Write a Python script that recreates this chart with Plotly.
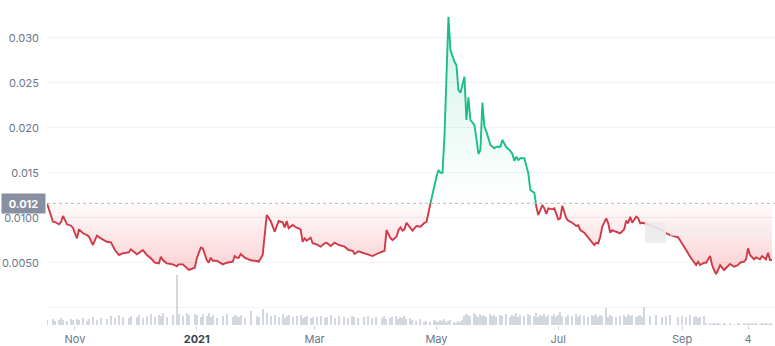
import numpy as np
import pandas as pd
import plotly.graph_objects as go

# ---------------- data ----------------
dates = [
    "2020-10-18", "2020-10-21", "2020-10-22", "2020-10-24", "2020-10-25", "2020-10-26", "2020-10-28", "2020-10-30", "2020-10-31",
    "2020-11-02", "2020-11-03", "2020-11-05", "2020-11-07", "2020-11-08", "2020-11-10", "2020-11-12", "2020-11-14", "2020-11-17",
    "2020-11-19", "2020-11-21", "2020-11-23", "2020-11-25", "2020-11-28", "2020-11-29",
    "2020-12-02", "2020-12-03", "2020-12-05", "2020-12-07", "2020-12-09", "2020-12-11", "2020-12-13", "2020-12-14", "2020-12-15",
    "2020-12-17", "2020-12-20", "2020-12-22", "2020-12-23", "2020-12-25", "2020-12-27", "2020-12-28", "2020-12-31",
    "2021-01-01", "2021-01-03", "2021-01-04", "2021-01-06", "2021-01-07", "2021-01-08", "2021-01-09", "2021-01-11", "2021-01-14",
    "2021-01-16", "2021-01-19", "2021-01-20", "2021-01-21", "2021-01-22", "2021-01-23", "2021-01-25", "2021-01-28", "2021-01-31",
    "2021-02-01", "2021-02-03", "2021-02-05", "2021-02-07", "2021-02-09", "2021-02-11", "2021-02-13", "2021-02-14", "2021-02-15",
    "2021-02-16", "2021-02-18", "2021-02-20", "2021-02-22", "2021-02-23", "2021-02-24", "2021-02-25", "2021-02-27", "2021-02-28",
    "2021-03-02", "2021-03-04", "2021-03-06", "2021-03-07", "2021-03-09", "2021-03-11", "2021-03-13", "2021-03-16", "2021-03-18",
    "2021-03-20", "2021-03-21", "2021-03-23", "2021-03-26", "2021-03-28", "2021-03-30",
    "2021-04-01", "2021-04-04", "2021-04-05", "2021-04-06", "2021-04-08", "2021-04-09", "2021-04-11", "2021-04-12", "2021-04-13",
    "2021-04-14", "2021-04-15", "2021-04-16", "2021-04-18", "2021-04-19", "2021-04-21", "2021-04-23", "2021-04-25", "2021-04-26",
    "2021-04-28", "2021-04-30",
    "2021-05-01", "2021-05-02", "2021-05-03", "2021-05-04", "2021-05-05", "2021-05-06", "2021-05-07", "2021-05-08", "2021-05-10",
    "2021-05-11", "2021-05-12", "2021-05-13", "2021-05-14", "2021-05-15", "2021-05-16", "2021-05-17", "2021-05-18", "2021-05-20",
    "2021-05-21", "2021-05-22", "2021-05-23", "2021-05-24", "2021-05-25", "2021-05-26", "2021-05-28", "2021-05-29", "2021-05-30",
    "2021-05-31",
    "2021-06-02", "2021-06-03", "2021-06-05", "2021-06-07", "2021-06-08", "2021-06-09", "2021-06-10", "2021-06-11", "2021-06-12",
    "2021-06-14", "2021-06-16", "2021-06-17", "2021-06-19", "2021-06-20", "2021-06-21", "2021-06-22", "2021-06-23", "2021-06-24",
    "2021-06-25", "2021-06-26", "2021-06-28", "2021-06-29", "2021-06-30",
    "2021-07-01", "2021-07-02", "2021-07-03", "2021-07-05", "2021-07-06", "2021-07-08", "2021-07-10", "2021-07-11", "2021-07-12",
    "2021-07-14", "2021-07-16", "2021-07-18", "2021-07-19", "2021-07-20", "2021-07-21", "2021-07-22", "2021-07-23", "2021-07-25",
    "2021-07-26", "2021-07-27", "2021-07-28", "2021-07-30",
    "2021-08-01", "2021-08-03", "2021-08-04", "2021-08-05", "2021-08-06", "2021-08-07", "2021-08-09", "2021-08-10", "2021-08-11",
    "2021-08-12", "2021-08-13", "2021-08-16", "2021-08-19", "2021-08-22", "2021-08-24", "2021-08-26", "2021-08-30",
    "2021-09-01", "2021-09-03", "2021-09-05", "2021-09-07", "2021-09-08", "2021-09-09", "2021-09-10", "2021-09-12", "2021-09-13",
    "2021-09-15", "2021-09-16", "2021-09-17", "2021-09-18", "2021-09-19", "2021-09-20", "2021-09-22", "2021-09-23", "2021-09-25",
    "2021-09-27", "2021-09-29", "2021-09-30",
    "2021-10-02", "2021-10-03", "2021-10-04", "2021-10-05", "2021-10-06", "2021-10-07", "2021-10-08", "2021-10-10", "2021-10-11",
    "2021-10-12", "2021-10-13", "2021-10-14", "2021-10-15", "2021-10-16",
]

prices = [
    0.01160, 0.00956, 0.00952, 0.00927, 0.00952, 0.01019, 0.00927, 0.00911, 0.00886,
    0.00771, 0.00871, 0.00827, 0.00808, 0.00789, 0.00697, 0.00800, 0.00771, 0.00733,
    0.00727, 0.00641, 0.00586, 0.00604, 0.00616, 0.00649,
    0.00593, 0.00611, 0.00641, 0.00586, 0.00549, 0.00500, 0.00493, 0.00567, 0.00530,
    0.00493, 0.00482, 0.00463, 0.00482, 0.00482, 0.00438, 0.00419, 0.00444,
    0.00549, 0.00667, 0.00660, 0.00530, 0.00500, 0.00556, 0.00522, 0.00522, 0.00482,
    0.00500, 0.00511, 0.00574, 0.00556, 0.00556, 0.00597, 0.00556, 0.00527, 0.00519,
    0.00511, 0.00586, 0.01030, 0.00963, 0.00844, 0.00963, 0.00949, 0.00893, 0.00963,
    0.00882, 0.00919, 0.00889, 0.00871, 0.00733, 0.00771, 0.00744, 0.00778, 0.00716,
    0.00704, 0.00678, 0.00716, 0.00722, 0.00686, 0.00722, 0.00697, 0.00678, 0.00641,
    0.00633, 0.00597, 0.00627, 0.00604, 0.00586, 0.00574,
    0.00597, 0.00619, 0.00633, 0.00863, 0.00771, 0.00752, 0.00789, 0.00863, 0.00893,
    0.00856, 0.00871, 0.00944, 0.00893, 0.00856, 0.00908, 0.00900, 0.00944, 0.00952,
    0.01160, 0.01382,
    0.01456, 0.01530, 0.01500, 0.01500, 0.01900, 0.02567, 0.03233, 0.02863, 0.02733,
    0.02697, 0.02419, 0.02389, 0.02474, 0.02567, 0.02086, 0.02338, 0.02086, 0.02030,
    0.01882, 0.01708, 0.01752, 0.02278, 0.02011, 0.01956, 0.01808, 0.01789, 0.01771,
    0.01789,
    0.01789, 0.01863, 0.01782, 0.01744, 0.01708, 0.01633, 0.01678, 0.01641, 0.01660,
    0.01660, 0.01493, 0.01308, 0.01278, 0.01122, 0.01030, 0.01086, 0.01141, 0.01104,
    0.01041, 0.01104, 0.01093, 0.01104, 0.01030,
    0.00982, 0.00993, 0.01133, 0.00993, 0.00967, 0.00944, 0.00908, 0.00916, 0.00863,
    0.00833, 0.00782, 0.00733, 0.00697, 0.00722, 0.00716, 0.00789, 0.00900, 0.00993,
    0.00938, 0.00833, 0.00863, 0.00844,
    0.00827, 0.00871, 0.00967, 0.00938, 0.01011, 0.00944, 0.01011, 0.00993, 0.00938,
    0.00944, 0.00938, 0.00920, 0.00890, 0.00860, 0.00827, 0.00808, 0.00782,
    0.00716, 0.00641, 0.00567, 0.00511, 0.00474, 0.00511, 0.00474, 0.00500, 0.00500,
    0.00574, 0.00474, 0.00419, 0.00374, 0.00419, 0.00474, 0.00419, 0.00438, 0.00486,
    0.00456, 0.00474, 0.00500,
    0.00511, 0.00538, 0.00660, 0.00586, 0.00560, 0.00538, 0.00560, 0.00538, 0.00574,
    0.00560, 0.00538, 0.00611, 0.00530, 0.00530,
]

volumes = [
    0.5, 0.6, 0.4, 0.5, 0.7, 0.5, 0.4, 0.6, 0.5,
    0.6, 0.5, 0.7, 0.4, 0.6, 0.8, 0.5, 0.7, 0.6, 0.9, 0.7, 1.0, 0.8, 0.7, 0.9,
    0.8, 1.0, 0.7, 0.9, 1.1, 0.8, 1.0, 0.9, 1.2, 0.8, 1.0, 5.0, 1.1, 0.9, 1.2, 1.0, 1.1,
    1.0, 0.8, 1.1, 0.9, 1.2, 0.8, 1.0, 0.7, 0.9, 1.1, 0.8, 1.0, 0.9, 0.8, 1.0, 0.7, 1.4, 0.9,
    0.8, 1.6, 1.2, 0.9, 1.0, 0.8, 1.1, 0.7, 0.9, 1.0, 0.8, 0.9, 1.0, 0.7, 0.8, 0.9, 0.7, 0.8,
    0.8, 0.9, 0.7, 0.8, 1.0, 0.7, 0.9, 0.8, 0.7, 0.9, 0.8, 0.7, 0.8, 0.9, 0.7,
    0.8, 0.7, 0.9, 0.6, 0.7, 0.8, 0.9, 0.6, 0.8, 0.7, 0.9, 0.6, 0.7, 0.5, 0.4, 0.6, 0.3, 0.4, 0.3, 0.5,
    0.4, 0.3, 0.5, 0.4, 0.6, 0.3, 0.4, 0.5, 0.3, 0.2, 0.4, 0.3, 0.5, 0.9, 1.1, 1.0, 0.9, 1.2, 1.0,
    0.8, 1.1, 0.9, 1.0, 0.8, 1.1, 0.9, 1.0, 0.8,
    1.0, 0.9, 1.1, 0.8, 1.0, 0.9, 1.2, 0.8, 1.0, 0.9, 1.1, 1.0, 0.9, 1.2, 0.8, 1.0, 0.9, 1.1, 0.8,
    1.0, 0.9, 1.1, 0.8,
    1.0, 1.3, 0.9, 0.8, 1.0, 0.9, 1.1, 0.8, 1.0, 0.9, 0.8, 1.0, 0.9, 1.1, 0.8, 1.0, 0.9, 1.7,
    0.8, 1.0, 0.9, 0.8,
    0.9, 1.0, 0.8, 1.1, 0.9, 1.0, 0.8, 0.9, 1.0, 0.8, 1.8, 0.9, 1.0, 0.8, 0.9, 1.0, 0.8,
    0.9, 0.8, 1.0, 0.8, 0.9, 0.7, 0.8, 0.9, 0.2, 0.15, 0.1, 0.15, 0.1, 0.2, 0.1, 0.15, 0.1, 0.15,
    0.1, 0.2, 0.1,
    0.15, 0.1, 0.2, 0.1, 0.15, 0.1, 0.15, 0.1, 0.2, 0.1, 0.15, 0.1, 0.15, 0.1,
]

x_tick_dates = ["2020-11-01", "2021-01-01", "2021-03-01", "2021-05-01", "2021-07-01", "2021-09-01", "2021-10-04"]
x_tick_labels = ["Nov", "<b><span style='color:#3a3f4b'>2021</span></b>", "Mar", "May", "Jul", "Sep", "4"]
y_tick_values = [0, 0.005, 0.010, 0.015, 0.020, 0.025, 0.030]
y_tick_labels = ["", "0.0050", "0.0100", "0.015", "0.020", "0.025", "0.030"]
baseline_label = "0.012"

# ---------------- styling ----------------
RED = "#d03a48"
GREEN = "#1bbf82"
TXT = "#6b7689"
FONT = "Inter, Roboto, 'Open Sans', sans-serif"

base = prices[0]
t_ns = pd.to_datetime(dates).astype("int64").to_numpy().astype(float)
v = np.array(prices, dtype=float)

# split series into above / below-baseline segments (crossings interpolated)
segments = []
cur_side, cur_t, cur_v = None, [], []
for i in range(len(v)):
    side = v[i] > base
    if cur_side is None:
        cur_side, cur_t, cur_v = side, [t_ns[i]], [v[i]]
        continue
    if side != cur_side:
        f = (base - v[i - 1]) / (v[i] - v[i - 1])
        tc = t_ns[i - 1] + f * (t_ns[i] - t_ns[i - 1])
        cur_t.append(tc)
        cur_v.append(base)
        segments.append((cur_side, cur_t, cur_v))
        cur_side, cur_t, cur_v = side, [tc, t_ns[i]], [base, v[i]]
    else:
        cur_t.append(t_ns[i])
        cur_v.append(v[i])
segments.append((cur_side, cur_t, cur_v))


def build(side):
    lx, ly, fx, fy = [], [], [], []
    for s, ts_, vs in segments:
        if s != side:
            continue
        d = list(pd.to_datetime(np.array(ts_).astype("int64")))
        lx += d + [None]
        ly += list(vs) + [None]
        fx += d + [d[-1], d[0], None]
        fy += list(vs) + [base, base, None]
    return lx, ly, fx, fy


rlx, rly, rfx, rfy = build(False)
glx, gly, gfx, gfy = build(True)

fig = go.Figure()

fig.add_trace(go.Bar(
    x=pd.to_datetime(dates), y=volumes, yaxis="y2",
    marker=dict(color="#d3d8df", line=dict(width=0)),
    width=0.6 * 86400000, hoverinfo="skip",
))

fig.add_trace(go.Scatter(
    x=rfx, y=rfy, mode="lines", line=dict(width=0), fill="toself",
    fillgradient=dict(type="vertical", start=float(v.min()), stop=base,
                      colorscale=[[0, "rgba(234,57,67,0.24)"], [1, "rgba(234,57,67,0.02)"]]),
    hoverinfo="skip",
))
fig.add_trace(go.Scatter(
    x=gfx, y=gfy, mode="lines", line=dict(width=0), fill="toself",
    fillgradient=dict(type="vertical", start=base, stop=float(v.max()),
                      colorscale=[[0, "rgba(22,199,132,0.0)"], [1, "rgba(22,199,132,0.2)"]]),
    hoverinfo="skip",
))
fig.add_trace(go.Scatter(x=rlx, y=rly, mode="lines", line=dict(color=RED, width=1.9)))
fig.add_trace(go.Scatter(x=glx, y=gly, mode="lines", line=dict(color=GREEN, width=1.9)))

fig.update_layout(
    width=775, height=346,
    margin=dict(l=47, r=0, t=0, b=21),
    paper_bgcolor="white", plot_bgcolor="white",
    showlegend=False,
    font=dict(family=FONT, size=11, color=TXT),
    xaxis=dict(
        type="date", range=["2020-10-18", "2021-10-17 12:00"],
        tickvals=x_tick_dates, ticktext=x_tick_labels,
        ticks="outside", ticklen=4, tickcolor="#cfd4dc",
        showgrid=False, zeroline=False, showline=False,
        tickfont=dict(family=FONT, size=11, color=TXT),
    ),
    yaxis=dict(
        range=[-0.00192, 0.03419],
        tickvals=y_tick_values, ticktext=y_tick_labels,
        showgrid=True, gridcolor="#f1f2f4", gridwidth=1,
        zeroline=False, showline=False, ticks="",
        ticklabelstandoff=7,
        tickfont=dict(family=FONT, size=11, color=TXT),
    ),
    yaxis2=dict(overlaying="y", range=[0, 32.5], visible=False),
    shapes=[
        dict(type="line", xref="paper", x0=0, x1=1, yref="y", y0=base, y1=base,
             line=dict(color="#b4b9c3", width=1, dash="dot"), layer="above"),
        dict(type="rect", xref="paper", x0=0.8214, x1=0.8503, yref="paper", y0=0.2523, y1=0.3169,
             fillcolor="#ebebee", opacity=0.9, line=dict(width=0), layer="above"),
        dict(type="rect", xref="paper", x0=0.8558, x1=0.9931, yref="paper", y0=0.2738, y1=0.3046,
             fillcolor="#f3eef0", opacity=0.6, line=dict(width=0), layer="above"),
    ],
    annotations=[
        dict(text="<b>" + baseline_label + "</b>", xref="paper", x=0, xanchor="right",
             yref="y", y=base, yanchor="middle", showarrow=False,
             bgcolor="#878fa0", font=dict(family=FONT, size=11, color="white"),
             width=40, height=16, borderpad=1.5, xshift=-1),
    ],
)

fig.write_html("out.html")
